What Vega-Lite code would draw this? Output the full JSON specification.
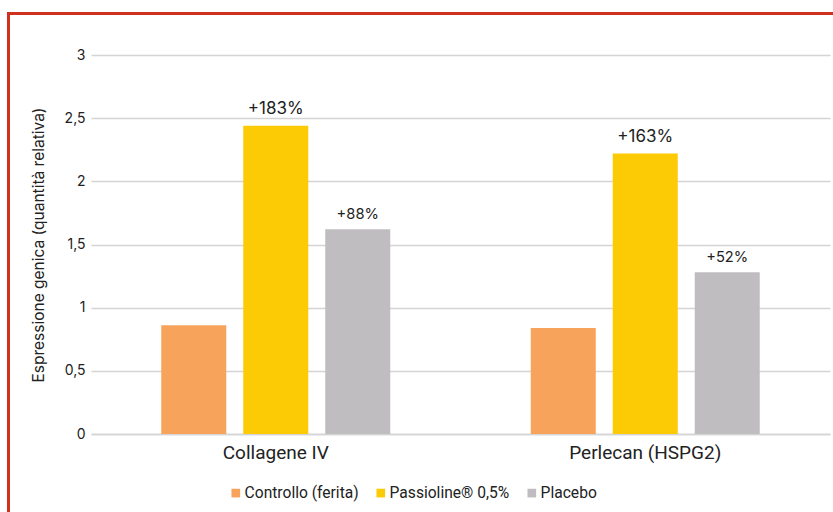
{
  "$schema": "https://vega.github.io/schema/vega-lite/v6.json",
  "width": 739,
  "height": 379,
  "autosize": "none",
  "padding": {"left": 91, "top": 55, "right": 3, "bottom": 78},
  "background": "white",
  "config": {"view": {"stroke": null}, "font": "Inter"},
  "data": {"values": [
    {"gene": "Collagene IV", "serie": "Controllo (ferita)", "valore": 0.86, "etichetta": ""},
    {"gene": "Collagene IV", "serie": "Passioline® 0,5%", "valore": 2.44, "etichetta": "+183%"},
    {"gene": "Collagene IV", "serie": "Placebo", "valore": 1.62, "etichetta": "+88%"},
    {"gene": "Perlecan (HSPG2)", "serie": "Controllo (ferita)", "valore": 0.84, "etichetta": ""},
    {"gene": "Perlecan (HSPG2)", "serie": "Passioline® 0,5%", "valore": 2.22, "etichetta": "+163%"},
    {"gene": "Perlecan (HSPG2)", "serie": "Placebo", "valore": 1.28, "etichetta": "+52%"}
  ]},
  "encoding": {
    "x": {"field": "gene", "type": "nominal", "sort": null,
      "scale": {"paddingInner": 0, "paddingOuter": 0},
      "axis": {"title": null, "labelAngle": 0, "ticks": false, "domain": true, "domainColor": "#d4d4d4", "domainWidth": 1.5,
        "labelFont": "Roboto", "labelFontSize": 19, "labelColor": "#222", "labelPadding": 9}},
    "xOffset": {"field": "serie", "type": "nominal", "sort": null, "scale": {"paddingInner": 0.207, "paddingOuter": 0.857}},
    "y": {"field": "valore", "type": "quantitative", "scale": {"domain": [0, 3]},
      "axis": {"values": [0, 0.5, 1, 1.5, 2, 2.5, 3], "labelExpr": "replace(format(datum.value,'~g'),'.',',')",
        "grid": true, "gridColor": "#d4d4d4", "gridWidth": 1.5, "domain": false, "ticks": false,
        "labelPadding": 6, "labelFontSize": 14, "labelColor": "#222",
        "title": "Espressione genica (quantità relativa)", "titleFontSize": 15.5, "titleFontWeight": "normal",
        "titleColor": "#222", "titlePadding": 18}}
  },
  "layer": [
    {"data": {"values": [{}]},
     "mark": {"type": "rect", "fill": null, "stroke": "#D0301E", "strokeWidth": 3, "clip": false},
     "encoding": {"x": {"value": -82.5}, "x2": {"value": 760}, "y": {"value": -41.5}, "y2": {"value": 480}, "xOffset": null}},
    {"mark": {"type": "bar"},
     "encoding": {"color": {"field": "serie", "type": "nominal", "sort": null,
        "scale": {"range": ["#F7A35C", "#FDCB06", "#C0BDC0"]},
        "legend": {"title": null, "orient": "none", "legendX": 137, "legendY": 430, "direction": "horizontal",
          "symbolType": "square", "symbolSize": 75, "symbolStrokeWidth": 0, "labelFont": "Roboto", "labelFontSize": 15.6,
          "labelColor": "#222", "columnPadding": 14, "labelOffset": 1}}}},
    {"transform": [{"filter": "datum.serie === 'Passioline® 0,5%'"}],
     "mark": {"type": "text", "baseline": "alphabetic", "dy": -12, "fontSize": 17, "color": "#222"},
     "encoding": {"text": {"field": "etichetta"}}},
    {"transform": [{"filter": "datum.serie === 'Placebo'"}],
     "mark": {"type": "text", "baseline": "alphabetic", "dy": -10, "fontSize": 14.7, "color": "#222"},
     "encoding": {"text": {"field": "etichetta"}}}
  ]
}
